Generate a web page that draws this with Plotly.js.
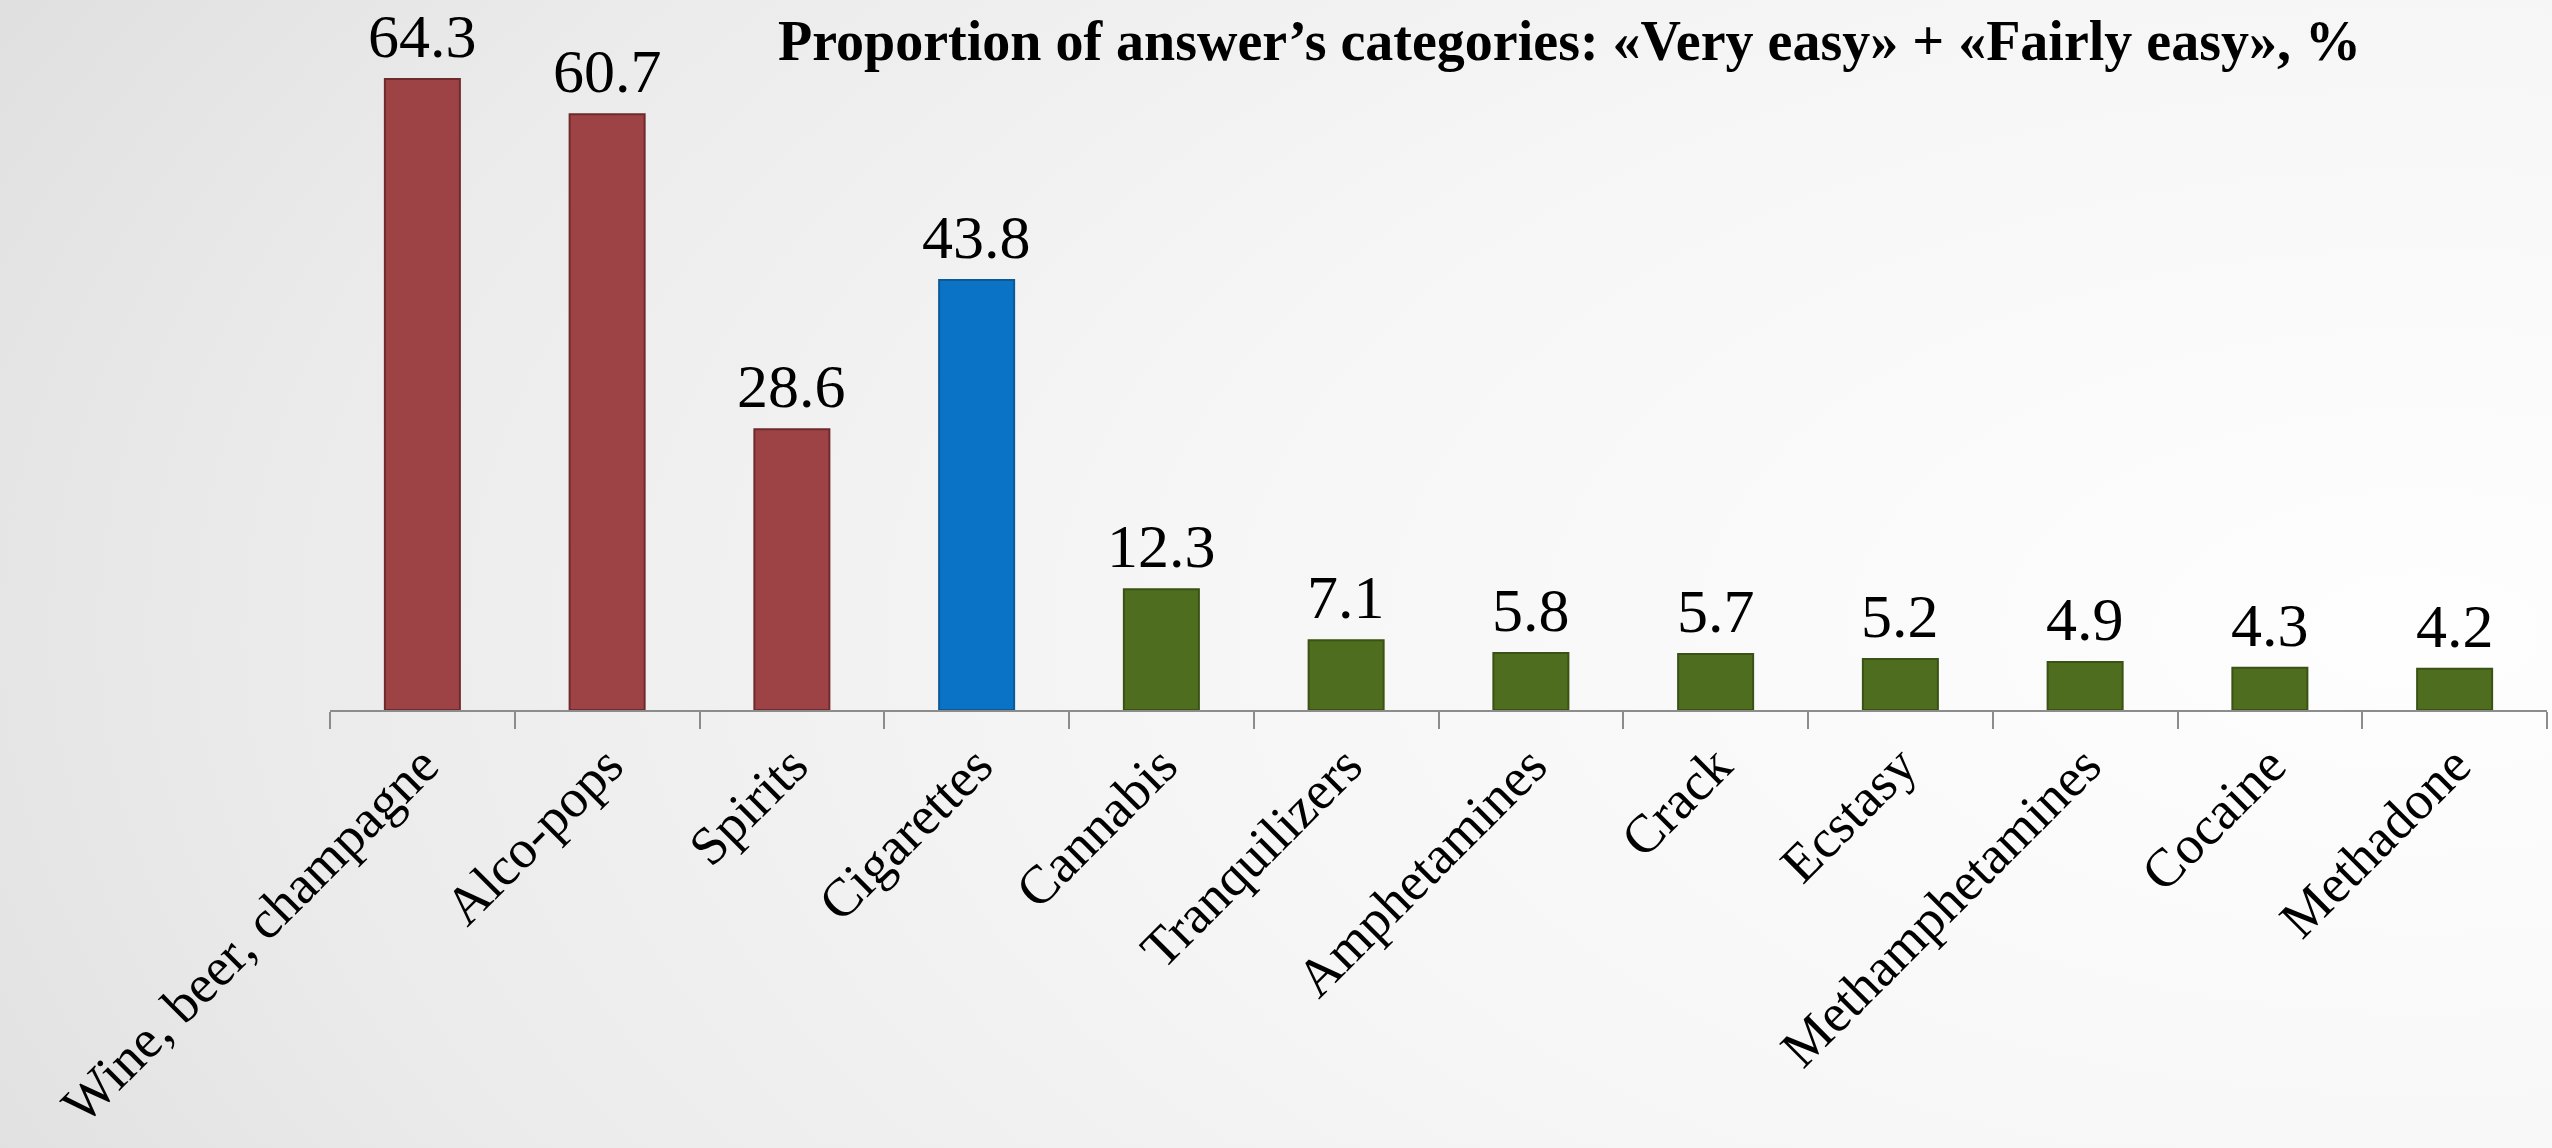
<!DOCTYPE html>
<html>
<head>
<meta charset="utf-8">
<script src="https://cdn.plot.ly/plotly-3.0.1.min.js"></script>
<style>
  html, body { margin: 0; padding: 0; }
  body {
    width: 2552px; height: 1148px; overflow: hidden;
    background: radial-gradient(ellipse 120% 140% at 95% 55%, #fefefe 0%, #f6f6f6 40%, #ebebeb 70%, #d8d8d8 100%);
  }
  #chart { width: 2552px; height: 1148px; }
</style>
</head>
<body>
<div id="chart"></div>
<script>
// ---- data ----
const categories = ["Wine, beer, champagne", "Alco-pops", "Spirits", "Cigarettes", "Cannabis",
  "Tranquilizers", "Amphetamines", "Crack", "Ecstasy", "Methamphetamines", "Cocaine", "Methadone"];
const values = [64.3, 60.7, 28.6, 43.8, 12.3, 7.1, 5.8, 5.7, 5.2, 4.9, 4.3, 4.2];
const groups = ["alcohol", "alcohol", "alcohol", "tobacco", "drugs", "drugs", "drugs", "drugs",
  "drugs", "drugs", "drugs", "drugs"];
const titleText = "Proportion of answer’s categories: «Very easy» + «Fairly easy», %";

// ---- styles ----
const fillColors = { alcohol: "#9e4345", tobacco: "#0a73c5", drugs: "#4f6d1f" };
const edgeColors = { alcohol: "#6e2a2c", tobacco: "#0a5a9a", drugs: "#3a5214" };
const serif = "Liberation Serif, Times New Roman, serif";

const trace = {
  type: "bar",
  x: categories,
  y: values,
  marker: {
    color: groups.map(g => fillColors[g]),
    line: { color: groups.map(g => edgeColors[g]), width: 2 }
  },
  hoverinfo: "none"
};

const valueLabels = categories.map((c, i) => ({
  x: c, y: values[i], xref: "x", yref: "y",
  text: values[i].toFixed(1),
  showarrow: false,
  xanchor: "center", yanchor: "bottom",
  yshift: 7,
  font: { family: serif, size: 62, color: "#000000" }
}));

const layout = {
  width: 2552,
  height: 1148,
  paper_bgcolor: "rgba(0,0,0,0)",
  plot_bgcolor: "rgba(0,0,0,0)",
  margin: { l: 330, r: 5, t: 20, b: 438, pad: 0 },
  bargap: 0.594,
  showlegend: false,
  title: {
    text: "<b>" + titleText + "</b>",
    font: { family: serif, size: 56, color: "#000000" },
    x: 0.615, xanchor: "center", xref: "container",
    y: 0.965, yanchor: "middle", yref: "container"
  },
  xaxis: {
    type: "category",
    range: [-0.5, 11.5],
    showline: true, linecolor: "#8c8c8c", linewidth: 2,
    ticks: "outside", tickson: "boundaries", ticklen: 17, tickwidth: 2, tickcolor: "#8c8c8c",
    tickangle: -45,
    tickfont: { family: serif, size: 54, color: "#000000" },
    showgrid: false, zeroline: false, automargin: false
  },
  yaxis: {
    range: [0, 70.3],
    visible: false,
    showgrid: false, zeroline: false
  },
  annotations: valueLabels
};

Plotly.newPlot("chart", [trace], layout, { displayModeBar: false, staticPlot: true });
</script>
</body>
</html>
